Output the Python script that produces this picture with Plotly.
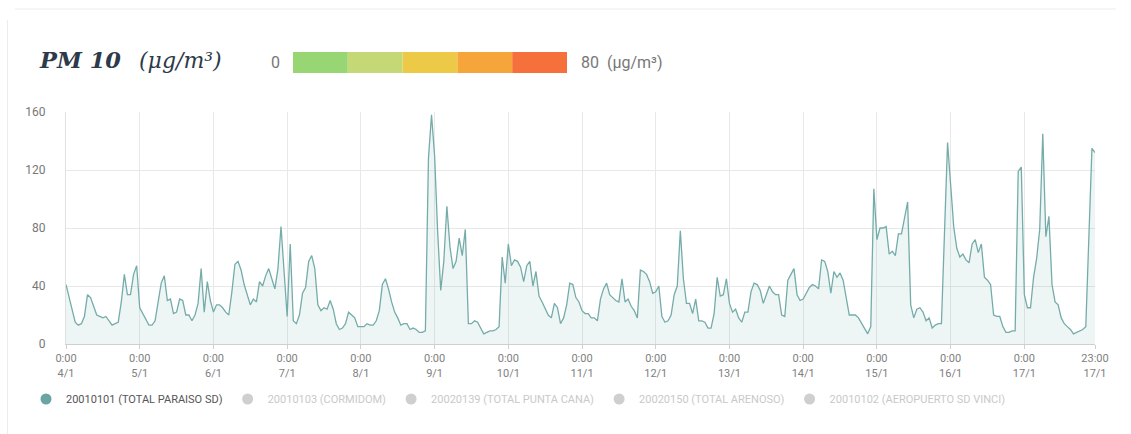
import pandas as pd
import plotly.graph_objects as go

# ---------------- data (hourly PM10, 4/1 00:00 -> 17/1 23:00) ----------------
start_time = "2021-01-04 00:00"
pm10_values = [
    # 4/1
    41, 32, 22, 15, 13, 14, 19, 34, 32, 26, 20, 19, 18, 19, 16, 13, 14, 15, 29, 48, 34, 34, 48, 54,
    # 5/1
    25, 21, 17, 13, 13, 16, 29, 42, 47, 30, 31, 21, 22, 31, 30, 20, 20, 16, 20, 28, 52, 22, 43, 30,
    # 6/1
    22, 27, 27, 25, 22, 20, 36, 55, 57, 51, 41, 34, 27, 31, 29, 43, 40, 47, 52, 45, 38, 52, 81, 50,
    # 7/1
    19, 69, 16, 14, 20, 35, 39, 57, 61, 52, 27, 23, 25, 24, 30, 24, 14, 10, 11, 14, 22, 20, 18, 12,
    # 8/1
    12, 12, 14, 13, 13, 16, 23, 41, 45, 38, 29, 22, 18, 13, 14, 14, 10, 11, 10, 8, 8, 9, 128, 158,
    # 9/1
    130, 77, 37, 57, 95, 67, 52, 57, 73, 61, 79, 14, 14, 16, 15, 11, 7, 8, 9, 9, 10, 12, 60, 42,
    # 10/1
    69, 54, 58, 57, 53, 43, 54, 57, 40, 50, 33, 29, 24, 20, 18, 28, 25, 14, 18, 27, 42, 41, 32, 29,
    # 11/1
    23, 21, 21, 18, 18, 16, 31, 38, 42, 34, 32, 30, 29, 45, 29, 31, 26, 23, 18, 51, 50, 48, 43, 35,
    # 12/1
    36, 40, 19, 15, 16, 20, 34, 40, 78, 45, 28, 28, 21, 31, 16, 16, 15, 11, 11, 21, 46, 33, 34, 45,
    # 13/1
    28, 22, 24, 18, 15, 22, 22, 36, 42, 41, 37, 28, 34, 40, 36, 34, 34, 20, 19, 44, 48, 52, 34, 30,
    # 14/1
    31, 35, 39, 41, 40, 38, 58, 57, 50, 35, 50, 46, 49, 44, 33, 20, 20, 20, 18, 14, 10, 7, 12, 107,
    # 15/1
    72, 80, 80, 81, 62, 64, 61, 76, 76, 88, 98, 27, 18, 24, 25, 22, 16, 18, 11, 13, 14, 14, 75, 139,
    # 16/1
    110, 81, 66, 60, 62, 58, 56, 69, 72, 63, 69, 46, 44, 41, 20, 19, 19, 12, 8, 8, 9, 9, 119, 122,
    # 17/1
    34, 25, 25, 46, 59, 79, 145, 74, 88, 41, 29, 27, 18, 14, 12, 10, 7, 8, 9, 10, 12, 71, 135, 132,
]

tick_times = [
    "2021-01-04 00:00", "2021-01-05 00:00", "2021-01-06 00:00", "2021-01-07 00:00",
    "2021-01-08 00:00", "2021-01-09 00:00", "2021-01-10 00:00", "2021-01-11 00:00",
    "2021-01-12 00:00", "2021-01-13 00:00", "2021-01-14 00:00", "2021-01-15 00:00",
    "2021-01-16 00:00", "2021-01-17 00:00", "2021-01-17 23:00",
]
tick_labels = [
    "0:00<br>4/1", "0:00<br>5/1", "0:00<br>6/1", "0:00<br>7/1", "0:00<br>8/1",
    "0:00<br>9/1", "0:00<br>10/1", "0:00<br>11/1", "0:00<br>12/1", "0:00<br>13/1",
    "0:00<br>14/1", "0:00<br>15/1", "0:00<br>16/1", "0:00<br>17/1", "23:00<br>17/1",
]
y_ticks = [0, 40, 80, 120, 160]

active_station = "20010101 (TOTAL PARAISO SD)"
other_stations = [
    "20010103 (CORMIDOM)",
    "20020139 (TOTAL PUNTA CANA)",
    "20020150 (TOTAL ARENOSO)",
    "20010102 (AEROPUERTO SD VINCI)",
]

scale_min_label = "0"
scale_max_label = "80  (μg/m³)"
scale_colors = ["#98d674", "#c4d876", "#ecca48", "#f6a53a", "#f6703c"]

# ---------------- figure ----------------
times = pd.date_range(start_time, periods=len(pm10_values), freq="h")

W_PX, H_PX = 1131, 434
L, R, T, B = 66, 36, 112, 90
PW = W_PX - L - R
PH = H_PX - T - B


def px(x):
    return (x - L) / PW


def py(y):
    return (H_PX - B - y) / PH


LINE = "#74acaa"
fig = go.Figure()

fig.add_trace(go.Scatter(
    x=times, y=pm10_values, mode="lines",
    line=dict(color=LINE, width=1.3),
    fill="tozeroy", fillcolor="rgba(116,172,170,0.12)",
    showlegend=False, hoverinfo="x+y",
))

# legend entries
fig.add_trace(go.Scatter(
    x=[None], y=[None], mode="markers", name=active_station,
    marker=dict(color="#6aa5a3", size=11, symbol="circle"),
))
for st in other_stations:
    fig.add_trace(go.Scatter(
        x=[None], y=[None], mode="markers",
        name=f"<span style='color:#c9c9c9'>{st}</span>",
        marker=dict(color="#cfcfcf", size=11, symbol="circle"),
    ))

shapes = []
# colour scale boxes
x0 = 293
box_w = (567 - 293) / len(scale_colors)
for i, c in enumerate(scale_colors):
    shapes.append(dict(
        type="rect", xref="paper", yref="paper",
        x0=px(x0 + i * box_w), x1=px(x0 + (i + 1) * box_w),
        y0=py(73), y1=py(52), line=dict(width=0), fillcolor=c, layer="above",
    ))
# card border
shapes.append(dict(type="line", xref="paper", yref="paper",
                   x0=px(15), x1=px(1116), y0=py(9), y1=py(9),
                   line=dict(color="#ececec", width=1)))
shapes.append(dict(type="line", xref="paper", yref="paper",
                   x0=px(7.5), x1=px(7.5), y0=py(20), y1=py(434),
                   line=dict(color="#ececec", width=1)))

annotations = [
    dict(text="<b><i>PM 10</i></b>", x=px(37), y=py(60), xref="paper", yref="paper",
         xanchor="left", yanchor="middle", showarrow=False,
         font=dict(family="DejaVu Serif", size=22.5, color="#2e3a4a")),
    dict(text="<i>(μg/m³)</i>", x=px(137), y=py(61), xref="paper", yref="paper",
         xanchor="left", yanchor="middle", showarrow=False,
         font=dict(family="DejaVu Serif", size=22, color="#2e3a4a")),
    dict(text=scale_min_label, x=px(275), y=py(63), xref="paper", yref="paper",
         xanchor="center", yanchor="middle", showarrow=False,
         font=dict(family="Roboto", size=16, color="#777777")),
    dict(text=scale_max_label, x=px(579), y=py(63), xref="paper", yref="paper",
         xanchor="left", yanchor="middle", showarrow=False,
         font=dict(family="Roboto", size=16, color="#777777")),
]

fig.update_layout(
    width=W_PX, height=H_PX,
    margin=dict(l=L, r=R, t=T, b=B, pad=0),
    paper_bgcolor="white", plot_bgcolor="white",
    font=dict(family="Roboto", size=11, color="#555555"),
    shapes=shapes, annotations=annotations,
    showlegend=True,
    legend=dict(orientation="h", x=px(26), y=py(399), xanchor="left", yanchor="middle",
                font=dict(family="Roboto", size=11, color="#555555"),
                itemwidth=30, bgcolor="rgba(0,0,0,0)"),
    hovermode="x",
)

fig.update_xaxes(
    range=[times[0], times[-1]],
    tickmode="array", tickvals=pd.to_datetime(tick_times), ticktext=tick_labels,
    showgrid=True, gridcolor="#e8e8e8", gridwidth=1,
    showline=True, linecolor="#cfcfcf", linewidth=1,
    ticks="outside", ticklen=4, tickcolor="#cfcfcf",
    tickfont=dict(family="Roboto", size=11, color="#808080"),
    zeroline=False,
)
fig.update_yaxes(
    range=[0, 160], tickvals=y_ticks,
    showgrid=True, gridcolor="#e8e8e8", gridwidth=1,
    showline=True, linecolor="#e0e0e0", linewidth=1,
    ticks="", ticklabelstandoff=17,
    tickfont=dict(family="Roboto", size=12, color="#777777"),
    zeroline=False,
)

fig.write_html(
    "out.html",
    config={"displayModeBar": False},
    post_script="document.body.style.margin='0px';document.body.style.overflow='hidden';",
)
